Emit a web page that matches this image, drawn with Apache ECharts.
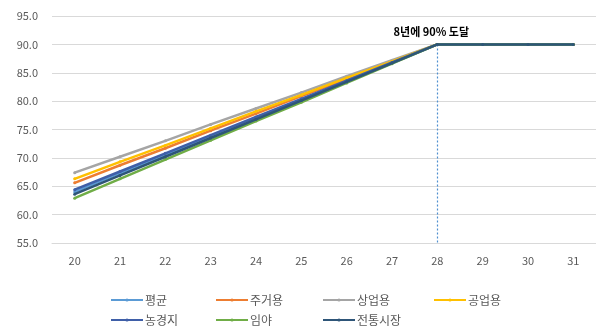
<!DOCTYPE html>
<html>
<head>
<meta charset="utf-8">
<script src="https://cdn.jsdelivr.net/npm/echarts@6/dist/echarts.min.js"></script>
<style>
  html, body { margin: 0; padding: 0; background: #ffffff; }
  #chart { width: 596px; height: 326px; }
</style>
</head>
<body>
<div id="chart"></div>
<script>
// 연도(축 레이블)
const years = ['20', '21', '22', '23', '24', '25', '26', '27', '28', '29', '30', '31'];

// 용도별 현실화율 (%)
const avgVals      = [64.0, 67.3, 70.5, 73.7, 77.0, 80.2, 83.5, 86.7, 90.0, 90.0, 90.0, 90.0];
const residVals    = [65.6, 68.7, 71.7, 74.8, 77.8, 80.9, 83.9, 87.0, 90.0, 90.0, 90.0, 90.0];
const commerVals   = [67.4, 70.2, 73.0, 75.9, 78.7, 81.5, 84.4, 87.2, 90.0, 90.0, 90.0, 90.0];
const industVals   = [66.3, 69.3, 72.2, 75.2, 78.2, 81.1, 84.1, 87.0, 90.0, 90.0, 90.0, 90.0];
const farmVals     = [64.4, 67.6, 70.8, 74.0, 77.2, 80.4, 83.6, 86.8, 90.0, 90.0, 90.0, 90.0];
const forestVals   = [62.9, 66.3, 69.7, 73.1, 76.5, 79.8, 83.2, 86.6, 90.0, 90.0, 90.0, 90.0];
const marketVals   = [63.6, 66.9, 70.2, 73.5, 76.8, 80.1, 83.4, 86.7, 90.0, 90.0, 90.0, 90.0];

const seriesNames  = ['평균', '주거용', '상업용', '공업용', '농경지', '임야', '전통시장'];
const seriesValues = [avgVals, residVals, commerVals, industVals, farmVals, forestVals, marketVals];
const seriesColors = ['#5B9BD5', '#ED7D31', '#A5A5A5', '#FFC000', '#3F5FA8', '#70AD47', '#2E5578'];

// 목표 도달 시점
const targetYear = '28';
const targetValue = 90;
const targetNote = '8년에 90% 도달';

const font = 'Noto Sans CJK KR';

const series = seriesNames.map((name, i) => ({
  name: name,
  type: 'line',
  data: seriesValues[i],
  color: seriesColors[i],
  symbol: 'circle',
  symbolSize: 3,
  lineStyle: { width: 2.5 },
  emphasis: { disabled: true },
  z: 2 + i
}));

// 도달 시점 점선과 주석
series[series.length - 1].markLine = {
  silent: true,
  symbol: ['none', 'none'],
  label: { show: false },
  lineStyle: { color: '#4F8FD0', type: [2, 2], width: 1.2 },
  data: [[{ coord: [targetYear, targetValue] }, { coord: [targetYear, 55] }]]
};
series[series.length - 1].markPoint = {
  silent: true,
  symbol: 'circle',
  symbolSize: 0,
  data: [{ coord: [targetYear, targetValue] }],
  label: {
    show: true,
    formatter: targetNote,
    position: 'top',
    offset: [-6, -2],
    color: '#000000',
    fontFamily: font,
    fontWeight: 'bold',
    fontSize: 11
  }
};

// 범례 칸 배치 (두 줄)
const legendSlots = [
  [105, 289], [210, 289], [317, 289], [428, 289],
  [105, 309], [210, 309], [317, 309]
];
const legends = seriesNames.map((name, i) => ({
  data: [name],
  left: legendSlots[i][0],
  top: legendSlots[i][1],
  itemWidth: 32,
  itemHeight: 4,
  itemGap: 0,
  selectedMode: false,
  textStyle: { color: '#595959', fontFamily: font, fontSize: 12, padding: [0, 0, 0, -3] }
}));

const chart = echarts.init(document.getElementById('chart'), null, { renderer: 'canvas' });
chart.setOption({
  animation: false,
  backgroundColor: '#ffffff',
  grid: { left: 52, right: 0, top: 16, bottom: 83, containLabel: false },
  legend: legends,
  xAxis: {
    type: 'category',
    data: years,
    boundaryGap: true,
    axisLine: { show: true, lineStyle: { color: '#D9D9D9' } },
    axisTick: { show: false },
    axisLabel: { color: '#595959', fontFamily: font, fontSize: 11, margin: 12 }
  },
  yAxis: {
    type: 'value',
    min: 55,
    max: 95,
    interval: 5,
    axisLine: { show: false },
    axisTick: { show: false },
    splitLine: { lineStyle: { color: '#D9D9D9', width: 1 } },
    axisLabel: {
      color: '#595959', fontFamily: font, fontSize: 11, margin: 14,
      formatter: v => v.toFixed(1)
    }
  },
  series: series
});
</script>
</body>
</html>
